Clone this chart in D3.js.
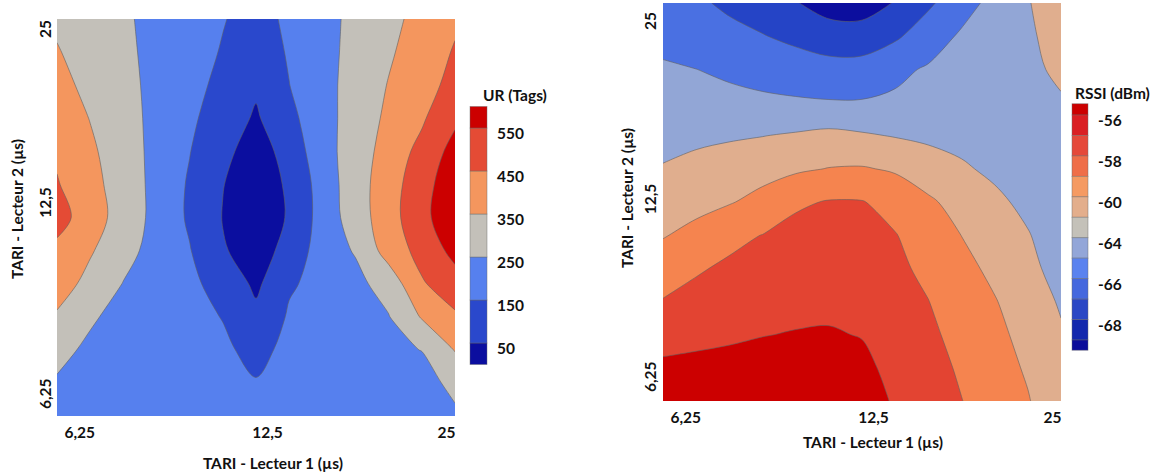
<!DOCTYPE html>
<html>
<head>
<meta charset="utf-8">
<script src="https://cdn.jsdelivr.net/npm/d3@7"></script>
<style>
  html, body { margin: 0; padding: 0; background: #ffffff; }
  svg text { font-family: Lato, "Open Sans", sans-serif; font-weight: 700; fill: #111111; }
</style>
</head>
<body>
<svg id="chart" width="1157" height="472"></svg>
<script>
// TARI settings of both readers (coded -1 / 0 / +1 on the design grid)
const tariCoded = [-1, 0, 1];
const tariLabels = ["6,25", "12,5", "25"];

// UR (Tags): 13 x 13 surface, rows from TARI 2 = 25 (top) to 6,25 (bottom),
// columns from TARI 1 = 6,25 (left) to 25 (right)
const urGrid = [
  [335, 298, 262, 226, 190, 154.5, 118, 166, 220, 273, 325, 379, 435],
  [356, 312, 268, 226, 185, 144, 95, 159, 219, 279, 338, 397, 458],
  [378, 327, 276, 226, 179, 126, 65, 148.5, 218, 287, 354.5, 416, 478],
  [410, 347, 285, 225, 167, 102, 38, 124, 212, 294, 369, 438, 530],
  [435, 367, 295, 223, 153, 70, 15, 79, 221, 286, 400, 475, 588],
  [457, 382, 304, 222, 139, 52, 12, 60, 194, 305, 406, 511, 615],
  [490, 397, 307, 222, 136, 47, 10, 56, 190, 299, 409, 522, 620],
  [425, 360, 283, 215, 155, 56, 20, 72, 205, 257, 393, 483, 580],
  [397, 320, 247, 207, 168, 118, 30, 140, 175, 225, 290, 440, 508],
  [338, 258, 230, 203, 176, 147, 75, 160, 185, 215, 246, 358, 435],
  [267, 238.6, 215, 200, 181, 165, 125, 172, 192, 208, 230, 252, 355],
  [244, 235, 223, 210, 195, 175, 155, 168, 190, 210, 212, 210, 278],
  [222, 215, 207, 198, 188, 178, 172, 180, 192, 203, 213, 222, 232]
];
const urLevels = [50, 150, 250, 350, 450, 550];
const urColors = ["#0b0e9f", "#2a48cc", "#5680ee", "#c3c0b9", "#f4965e", "#e44b35", "#cc0000"];
const urLegendBreaks = [0, 50, 150, 250, 350, 450, 550, 600];
const urLegendTicks = [550, 450, 350, 250, 150, 50];

// RSSI (dBm): same 13 x 13 layout
const rssiGrid = [
  [-65.0, -65.67, -66.38, -67.14, -67.9, -68.75, -68.79, -67.9, -66.32, -64.8, -63.4, -62.12, -60.85],
  [-64.5, -64.97, -65.43, -65.9, -66.52, -67.18, -67.26, -66.3, -64.97, -63.74, -63.0, -62.27, -61.3],
  [-63.79, -63.99, -64.3, -64.6, -64.9, -65.21, -65.14, -64.42, -63.8, -63.32, -62.83, -62.35, -61.7],
  [-63.17, -63.35, -63.55, -63.7, -63.8, -63.88, -63.88, -63.7, -63.4, -63.05, -62.75, -62.5, -62.15],
  [-62.54, -62.37, -62.21, -62.04, -61.79, -61.5, -61.78, -62.1, -62.4, -62.6, -62.75, -62.75, -62.7],
  [-61.89, -61.49, -61.09, -60.69, -60.29, -59.94, -59.85, -60.22, -60.98, -61.74, -62.4, -62.8, -63.0],
  [-61.0, -60.57, -60.14, -59.4, -58.3, -57.88, -57.91, -58.69, -59.72, -60.66, -61.57, -62.5, -63.2],
  [-60.12, -59.46, -58.4, -57.97, -57.39, -56.8, -57.35, -57.92, -58.93, -60.02, -60.95, -61.88, -63.1],
  [-59.02, -58.16, -57.75, -57.34, -56.93, -56.5, -57.06, -57.64, -58.39, -59.43, -60.45, -61.44, -62.8],
  [-57.89, -57.54, -57.2, -56.85, -56.5, -56.27, -56.92, -57.45, -57.97, -58.92, -59.89, -61.03, -62.2],
  [-56.8, -56.55, -56.3, -56.05, -55.91, -55.9, -56.05, -56.89, -57.66, -58.55, -59.52, -60.6, -61.8],
  [-55.6, -55.45, -55.35, -55.3, -55.35, -55.69, -55.7, -56.36, -57.3, -58.25, -59.21, -60.22, -61.5],
  [-55.2, -55.0, -54.9, -54.85, -54.95, -55.44, -55.73, -56.06, -57.01, -57.96, -58.92, -59.88, -61.3]
];
const rssiLevels = [-68, -66, -64, -62, -60, -58, -56];
const rssiColors = ["#0c0e9e", "#2544c6", "#4a70e2", "#92a6d6", "#e0ae8e", "#f5844f", "#e34432", "#cc0000"];
const rssiLegendBreaks = [-56, -57, -58, -59, -60, -62, -64, -65, -66, -67, -68, -69];
const rssiLegendColors = ["#cc0000", "#da1f23", "#e5493a", "#ef6e49", "#f59a62", "#e3ae8c", "#c4c1b9",
                          "#93a6d8", "#5a82ef", "#4568de", "#2a47c5", "#1328ad", "#0b0c9a"];
const rssiLegendTicks = ["-56", "-58", "-60", "-64", "-66", "-68"];

const svg = d3.select("#chart");
const defs = svg.append("defs");
const FONT = 15.5;

const openCurve = d3.line().curve(d3.curveCatmullRom.alpha(0.5));
const closedCurve = d3.line().curve(d3.curveCatmullRomClosed.alpha(0.5));

// Turn one contour ring into a fill outline and the visible iso-line pieces.
// Points are pulled onto the plot frame; runs along the frame stay straight,
// runs through the interior are smoothed and stroked.
function ringParts(r, n, m, gx, gy) {
  const lo = 0.5, hiX = n - 0.5, hiY = m - 0.5, eps = 1e-6;
  let pts = r.slice(0, -1).map(p => [
    Math.max(lo, Math.min(hiX, p[0])),
    Math.max(lo, Math.min(hiY, p[1]))
  ]);
  pts = pts.filter((p, i) => {
    const q = pts[(i + pts.length - 1) % pts.length];
    return Math.abs(p[0] - q[0]) > eps || Math.abs(p[1] - q[1]) > eps;
  });
  if (pts.length < 3) return { fill: "", line: "" };
  const onFrame = p => p[0] <= lo + eps || p[0] >= hiX - eps || p[1] <= lo + eps || p[1] >= hiY - eps;
  const px = p => [gx(p[0]), gy(p[1])];
  const start = pts.findIndex(onFrame);
  if (start < 0) {
    const d = closedCurve(pts.map(px));
    return { fill: d, line: d };
  }
  const seq = pts.slice(start).concat(pts.slice(0, start), [pts[start]]);
  let fill = "", line = "";
  let run = [seq[0]];
  for (let i = 1; i < seq.length; i++) {
    run.push(seq[i]);
    if (onFrame(seq[i])) {
      const seg = openCurve(run.map(px));
      fill += fill ? seg.replace(/^M/, "L") : seg;
      if (run.length > 2 || !(onFrame(run[0]) && onFrame(run[1]))) line += seg;
      run = [seq[i]];
    }
  }
  return { fill: fill + "Z", line };
}

function drawPanel(cfg) {
  const { id, left, top, width, height, grid, levels, colors } = cfg;
  const m = grid.length, n = grid[0].length;
  const values = grid.flat();

  // grid nodes sit at contour coordinates i + 0.5
  const gx = d3.scaleLinear().domain([0.5, n - 0.5]).range([left, left + width]);
  const gy = d3.scaleLinear().domain([0.5, m - 0.5]).range([top, top + height]);

  defs.append("clipPath").attr("id", "clip-" + id)
    .append("rect").attr("x", left).attr("y", top).attr("width", width).attr("height", height);

  const body = svg.append("g").attr("clip-path", `url(#clip-${id})`);
  body.append("rect")
    .attr("x", left).attr("y", top).attr("width", width).attr("height", height)
    .attr("fill", colors[0]);

  const bands = d3.contours().size([n, m]).thresholds(levels)(values).map((b, i) => {
    const parts = b.coordinates.flatMap(poly => poly.map(r => ringParts(r, n, m, gx, gy)));
    return {
      color: colors[i + 1],
      fill: parts.map(p => p.fill).join(""),
      line: parts.map(p => p.line).join("")
    };
  });

  body.selectAll("path.band").data(bands).join("path")
    .attr("class", "band")
    .attr("d", b => b.fill)
    .attr("fill", b => b.color)
    .attr("fill-rule", "evenodd")
    .attr("stroke", "none");

  body.selectAll("path.iso").data(bands).join("path")
    .attr("class", "iso")
    .attr("d", b => b.line)
    .attr("fill", "none")
    .attr("stroke", "#5f5f5f")
    .attr("stroke-opacity", 0.75)
    .attr("stroke-width", 0.8);

  // axes: coded TARI levels
  const x = d3.scaleLinear().domain([-1, 1]).range([left, left + width]);
  const y = d3.scaleLinear().domain([-1, 1]).range([top + height, top]);

  const xAxis = svg.append("g")
    .attr("transform", `translate(0,${top + height})`)
    .call(d3.axisBottom(x).tickValues(tariCoded).tickFormat((d, i) => tariLabels[i]).tickSize(0).tickPadding(cfg.xTickPad));
  xAxis.select(".domain").remove();
  xAxis.attr("font-family", null).attr("font-size", null);
  xAxis.selectAll("text")
    .style("font-size", FONT + "px")
    .attr("text-anchor", (d, i) => i === 0 ? "start" : i === 2 ? "end" : "middle")
    .attr("dx", (d, i) => i === 0 ? 7 : i === 1 ? 11 : 0);

  const yLab = svg.append("g");
  yLab.selectAll("text").data(tariCoded).join("text")
    .style("font-size", FONT + "px")
    .attr("dominant-baseline", "central")
    .attr("text-anchor", (d, i) => i === 0 ? "start" : i === 2 ? "end" : "middle")
    .attr("transform", (d, i) => `translate(${cfg.yTickX},${y(d) + cfg.yTickShift[i]}) rotate(-90)`)
    .text((d, i) => tariLabels[i]);

  svg.append("text")
    .style("font-size", FONT + "px")
    .attr("text-anchor", "middle")
    .attr("dominant-baseline", "central")
    .attr("x", left + width / 2 + cfg.xTitle[0]).attr("y", cfg.xTitle[1])
    .text("TARI - Lecteur 1 (µs)");

  svg.append("text")
    .style("font-size", FONT + "px")
    .attr("text-anchor", "middle")
    .attr("dominant-baseline", "central")
    .attr("transform", `translate(${cfg.yTitle[0]},${cfg.yTitle[1]}) rotate(-90)`)
    .text("TARI - Lecteur 2 (µs)");
}

function drawLegend(cfg) {
  const { x0, barW, scale, bands, colors, ticks, tickPos, title, titlePos } = cfg;
  const g = svg.append("g");
  g.selectAll("rect").data(bands).join("rect")
    .attr("x", x0).attr("width", barW)
    .attr("y", d => Math.min(scale(d[0]), scale(d[1])))
    .attr("height", d => Math.abs(scale(d[1]) - scale(d[0])))
    .attr("fill", (d, i) => colors[i])
    .attr("stroke", "#6a6a6a").attr("stroke-opacity", 0.55).attr("stroke-width", 0.8);
  g.selectAll("text.tick").data(ticks).join("text")
    .attr("class", "tick")
    .style("font-size", FONT + "px")
    .attr("dominant-baseline", "central")
    .attr("x", x0 + barW + 10)
    .attr("y", (d, i) => tickPos(d, i) + 5)
    .text(d => d);
  g.append("text")
    .style("font-size", FONT + "px")
    .attr("dominant-baseline", "central")
    .attr("x", titlePos[0]).attr("y", titlePos[1])
    .text(title);
}

drawPanel({
  id: "ur", left: 57, top: 19, width: 398, height: 397,
  grid: urGrid, levels: urLevels, colors: urColors,
  xTickPad: 11, yTickX: 45, yTickShift: [-7, -15, 1],
  xTitle: [17, 463], yTitle: [17, 209]
});

drawPanel({
  id: "rssi", left: 663, top: 3, width: 398, height: 398,
  grid: rssiGrid, levels: rssiLevels, colors: rssiColors,
  xTickPad: 11, yTickX: 650, yTickShift: [-9, -3, 9],
  xTitle: [11, 442], yTitle: [627, 198]
});

// UR legend: value scale, 100 tags per step
const urLegendScale = d3.scaleLinear().domain([0, 600]).range([364.5, 106.5]);
drawLegend({
  x0: 470, barW: 17, scale: urLegendScale,
  bands: d3.pairs(urLegendBreaks),
  colors: urColors,
  ticks: urLegendTicks,
  tickPos: d => urLegendScale(d),
  title: "UR (Tags)", titlePos: [483, 95]
});

// RSSI legend: equal-height steps between successive breaks
const rssiIdx = d3.scaleLinear().domain([0, rssiLegendBreaks.length - 1]).range([115, 340]);
const rssiSteps = [-0.55].concat(rssiLegendBreaks.map((b, i) => i), [rssiLegendBreaks.length - 0.5]);
drawLegend({
  x0: 1072, barW: 16, scale: rssiIdx,
  bands: d3.pairs(rssiSteps),
  colors: rssiLegendColors,
  ticks: rssiLegendTicks,
  tickPos: (d, i) => rssiIdx(i * 2),
  title: "RSSI (dBm)", titlePos: [1075, 93]
});
</script>
</body>
</html>
